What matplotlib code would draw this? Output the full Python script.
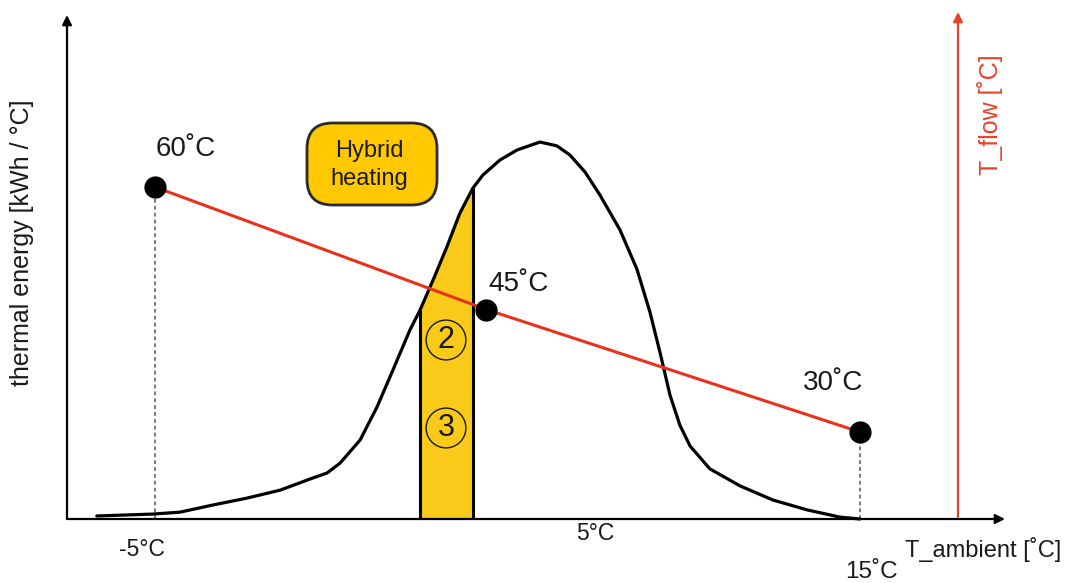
import numpy as np
import matplotlib.pyplot as plt
from matplotlib.patches import FancyBboxPatch

plt.rcParams['font.family'] = ['Liberation Sans', 'DejaVu Sans']

# heating demand curve, thermal energy per ambient temperature (schematic units)
t_ambient = np.array([-6.65, -5.06, -4.29, -3.35, -2.39, -1.45, -0.52, -0.12, 0.25, 0.82,
                      1.30, 1.75, 2.23, 2.52, 2.89, 3.28, 3.65, 4.02, 4.30, 4.79,
                      5.27, 5.92, 6.40, 6.77, 7.20, 7.62, 8.19, 8.67, 9.04, 9.33,
                      9.61, 9.89, 10.18, 10.74, 11.60, 12.53, 13.50, 14.43, 15.0])
energy = np.array([0.8, 1.3, 1.8, 3.7, 5.5, 7.6, 10.8, 12.1, 14.7, 20.8,
                   29.5, 39.2, 49.7, 55.0, 62.9, 71.6, 80.5, 87.1, 90.5, 94.5,
                   97.1, 99.2, 98.2, 95.8, 91.3, 85.3, 76.1, 65.8, 54.5, 43.7,
                   32.6, 24.7, 19.2, 13.2, 8.7, 5.0, 2.4, 0.5, 0.0])

# hybrid heating band limits (ambient temperature)
band_low, band_high = 2.52, 4.02

# heating curve: flow temperature against ambient temperature
flow_ambient = [-5.0, 4.4, 15.0]
flow_temp = [60, 45, 30]
flow_labels = ['60˚C', '45˚C', '30˚C']

W, H = 1065, 583
INK = '#1a1a1a'
RED = '#E8412C'


def px(x, y):
    # pixel position (top-left origin) -> figure fraction
    return x / W, 1 - y / H


fig = plt.figure(figsize=(W / 100, H / 100), dpi=100)
ax = fig.add_axes([0, 0, 1, 1])
ax.set_xlim(-9.397, 20.816)
ax.set_ylim(-16.84, 136.58)
ax.axis('off')

ax2 = ax.twinx()
ax2.set_ylim(11.51, 82.90)
ax2.axis('off')

# axes arrows
arrow = dict(arrowstyle='-|>', color='black', lw=1.6, mutation_scale=14, shrinkA=0, shrinkB=0)
ax.annotate('', xy=px(67, 15), xytext=px(67, 519), xycoords='figure fraction', arrowprops=arrow)
ax.annotate('', xy=px(1005, 519), xytext=px(67, 519), xycoords='figure fraction', arrowprops=arrow)
ax.annotate('', xy=px(958, 12), xytext=px(958, 517), xycoords='figure fraction',
            arrowprops=dict(arrow, color=RED))

# demand curve and hybrid band
mask = (t_ambient >= band_low) & (t_ambient <= band_high)
ax.fill_between(t_ambient[mask], 0, energy[mask], color='#F9CA1A', lw=0, zorder=2)
ax.vlines([band_low, band_high], 0, energy[mask][[0, -1]], color='black', lw=2.2, zorder=3)
ax.plot(t_ambient, energy, color='black', lw=2.3, solid_capstyle='round',
        solid_joinstyle='round', zorder=3)

# flow temperature line
ax2.plot(flow_ambient, flow_temp, color='#E8321E', lw=2.2, zorder=4)
ax2.plot(flow_ambient, flow_temp, 'o', color='black', ms=15, zorder=5)

# dotted drop lines from the end points
for xa, tf in [(flow_ambient[0], flow_temp[0]), (flow_ambient[-1], flow_temp[-1])]:
    disp = ax2.transData.transform((xa, tf))
    top = ax.transData.inverted().transform(disp)[1]
    ax.vlines(xa, 0, top, color='#555555', lw=1.1, linestyles=(0, (2.5, 2)), zorder=1)

offsets = [(31, 38), (32, 26), (-27, 49)]
for xa, tf, lab, off in zip(flow_ambient, flow_temp, flow_labels, offsets):
    ax2.annotate(lab, (xa, tf), xytext=off, textcoords='offset pixels',
                 ha='center', va='center', fontsize=20, color=INK)

# circled region numbers
for lab, y in [('2', 340), ('3', 428)]:
    fig.text(*px(446, y), lab, ha='center', va='center', fontsize=22, color=INK, zorder=6,
             bbox=dict(boxstyle='circle,pad=0.16', fc='none', ec=INK, lw=1.0))

# hybrid heating box
x0, y0 = px(307, 205)
x1, y1 = px(437, 123)
box = FancyBboxPatch((x0, y0), x1 - x0, y1 - y0, boxstyle='round,pad=0,rounding_size=0.024',
                     transform=fig.transFigure, fc='#FFC800', ec='#2a2a2a', lw=2, zorder=6,
                     mutation_aspect=W / H)
fig.patches.append(box)
fig.text(*px(369, 165), 'Hybrid\nheating', ha='center', va='center', fontsize=17,
         color=INK, linespacing=1.3, zorder=7)

# axis texts
fig.text(*px(142, 550), '-5°C', ha='center', va='center', fontsize=16.5, color=INK)
fig.text(*px(595, 533), '5°C', ha='center', va='center', fontsize=16.5, color=INK)
fig.text(*px(871, 572), '15˚C', ha='center', va='center', fontsize=17.5, color=INK)
fig.text(*px(983, 550), 'T_ambient [˚C]', ha='center', va='center', fontsize=17, color=INK)
fig.text(*px(22, 243), 'thermal energy [kWh / °C]', ha='center', va='center', rotation=90,
         fontsize=18, color=INK)
fig.text(*px(990, 115), 'T_flow [˚C]', ha='center', va='center', rotation=90,
         fontsize=18, color=RED)

fig.savefig('out.png', dpi=100)
